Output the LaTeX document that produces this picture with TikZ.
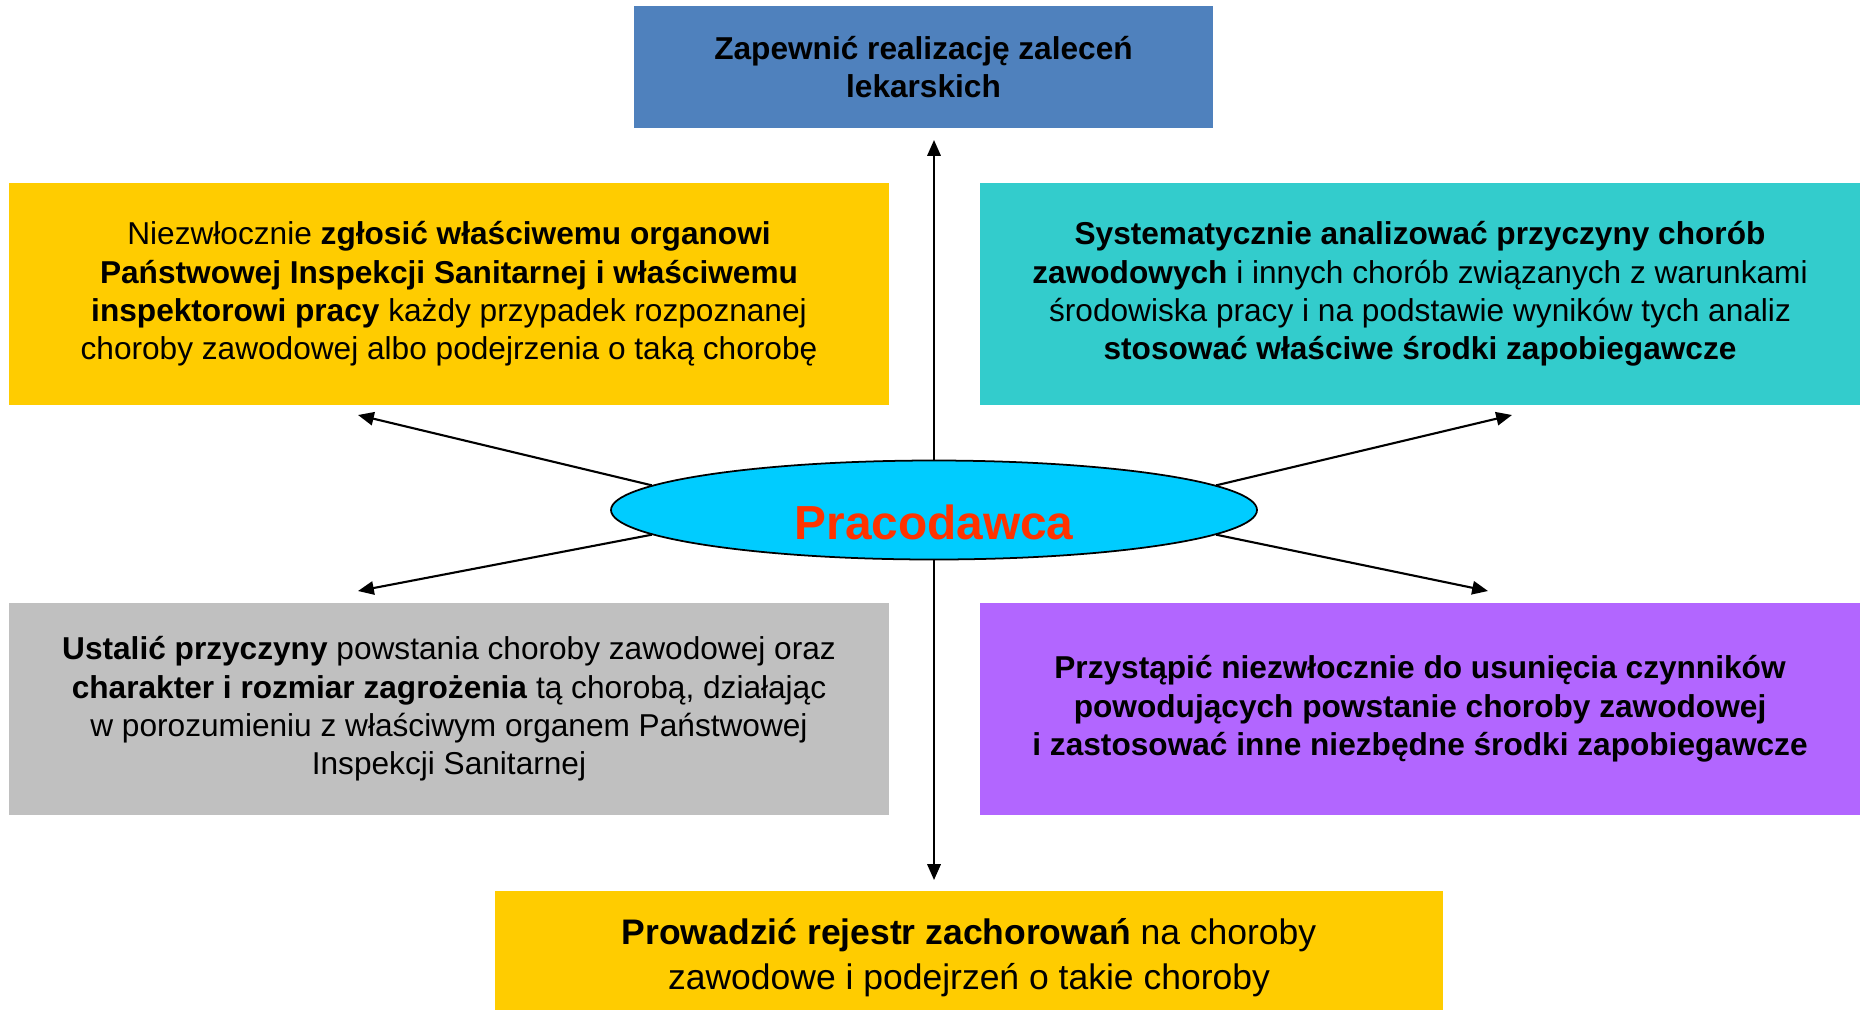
\documentclass[tikz,border=0pt]{standalone}
\usepackage{fontspec}
\setmainfont{Liberation Sans}
\usetikzlibrary{shapes.geometric,arrows.meta}
\definecolor{niebieski}{HTML}{4F81BD}
\definecolor{zolty}{HTML}{FFCC00}
\definecolor{turkus}{HTML}{33CCCC}
\definecolor{szary}{HTML}{C0C0C0}
\definecolor{fiolet}{HTML}{B266FF}
\definecolor{blekit}{HTML}{00CCFF}
\definecolor{czerwony}{HTML}{FF3300}

\begin{document}
\begin{tikzpicture}[x=0.1mm,y=-0.1mm,
    zadanie/.style={inner sep=0pt, align=center, font=\fontsize{9pt}{10.9pt}\selectfont},
    bok/.style={zadanie, minimum width=88mm},
    strzalka/.style={line width=0.6pt, -{Triangle[length=4.5pt,width=3.8pt]}}]
    \useasboundingbox (0,0) rectangle (1861,1009);
    \node[zadanie, fill=niebieski, minimum width=57.9mm, minimum height=12.2mm] (zalecenia) at (923.5,67)
        {\textbf{Zapewnić realizację zaleceń}\\\textbf{lekarskich}};
    \node[bok, fill=zolty, minimum height=22.2mm] (zgloszenie) at (449,294)
        {Niezwłocznie \textbf{zgłosić właściwemu organowi}\\
         \textbf{Państwowej Inspekcji Sanitarnej i właściwemu}\\
         \textbf{inspektorowi pracy} każdy przypadek rozpoznanej\\
         choroby zawodowej albo podejrzenia o taką chorobę};
    \node[bok, fill=turkus, minimum height=22.2mm] (analiza) at (1420,294)
        {\textbf{Systematycznie analizować przyczyny chorób}\\
         \textbf{zawodowych} i innych chorób związanych z warunkami\\
         środowiska pracy i na podstawie wyników tych analiz\\
         \textbf{stosować właściwe środki zapobiegawcze}};
    \node[bok, fill=szary, minimum height=21.2mm] (przyczyny) at (449,709)
        {\textbf{Ustalić przyczyny} powstania choroby zawodowej oraz\\
         \textbf{charakter i rozmiar zagrożenia} tą chorobą, działając\\
         w porozumieniu z właściwym organem Państwowej\\
         Inspekcji Sanitarnej};
    \node[bok, fill=fiolet, minimum height=21.2mm] (usuniecie) at (1420,709)
        {\textbf{Przystąpić niezwłocznie do usunięcia czynników}\\
         \textbf{powodujących powstanie choroby zawodowej}\\
         \textbf{i zastosować inne niezbędne środki zapobiegawcze}};
    \node[zadanie, fill=zolty, minimum width=94.8mm, minimum height=13.4mm,
          font=\fontsize{10.1pt}{12.8pt}\selectfont] (rejestr) at (969,958)
        {\textbf{Prowadzić rejestr zachorowań} na choroby\\
         zawodowe i podejrzeń o takie choroby};
    \node[ellipse, draw, line width=0.5pt, fill=blekit, inner sep=0pt,
          minimum width=64.6mm, minimum height=9.9mm, text height=5.9mm, text depth=0pt,
          font=\fontsize{13.6pt}{15pt}\selectfont\bfseries, text=czerwony] (pracodawca) at (934,510)
        {Pracodawca};
    % konce strzalek
    \coordinate (doGory) at (934,140);
    \coordinate (doDolu) at (934,880);
    \coordinate (lewoGora) at (358,415);
    \coordinate (lewoDol) at (358,591);
    \coordinate (prawoGora) at (1512,415);
    \coordinate (prawoDol) at (1488,591);
    \draw[strzalka] (pracodawca.north) -- (doGory);
    \draw[strzalka] (pracodawca.south) -- (doDolu);
    \draw[strzalka] (pracodawca.175) -- (lewoGora);
    \draw[strzalka] (pracodawca.185) -- (lewoDol);
    \draw[strzalka] (pracodawca.5) -- (prawoGora);
    \draw[strzalka] (pracodawca.-5) -- (prawoDol);
\end{tikzpicture}
\end{document}
